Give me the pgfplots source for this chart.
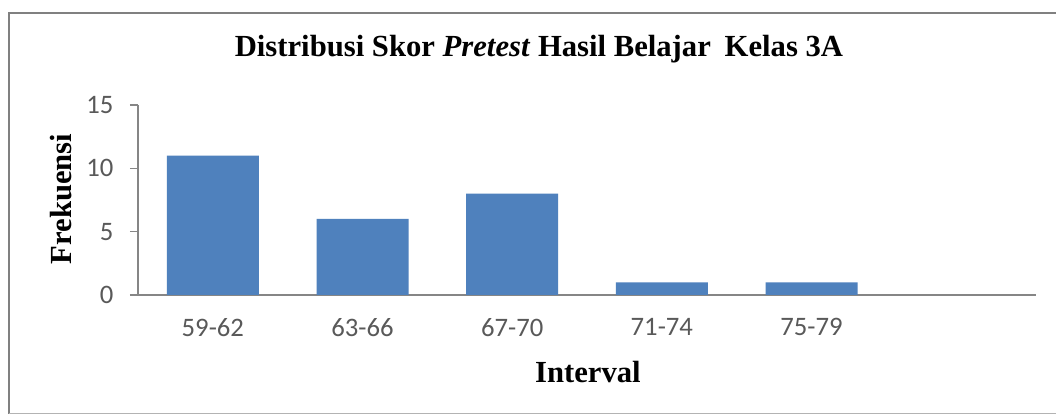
\documentclass[border=0pt]{standalone}
\usepackage{fontspec}
\setmainfont{Liberation Serif}
\newfontfamily\calibri{Carlito}
\usepackage{pgfplots}
\pgfplotsset{compat=1.18}
\definecolor{barblue}{HTML}{4F81BD}
\definecolor{axgray}{HTML}{868686}
\definecolor{lblgray}{HTML}{595959}
\definecolor{framegray}{HTML}{808080}
\begin{document}
\begin{tikzpicture}[x=1pt,y=1pt]
\path[use as bounding box] (0,0) rectangle (792,312);
\fill[white] (0,0) rectangle (792,312);
\draw[color=framegray, line width=1.5pt] (6.75,1.5) -- (6.75,302.25) -- (830,302.25);
\draw[color=framegray!60, line width=0.75pt] (6.75,1.5) -- (830,1.5);
\begin{axis}[
  at={(103.5pt,90.75pt)}, anchor=south west,
  scale only axis, width=673.5pt, height=142.5pt,
  xmin=-0.5, xmax=5.5, ymin=0, ymax=15,
  axis x line=bottom, axis y line=left,
  axis line style={axgray, line width=0.9pt, -},
  ytick={0,5,10,15},
  xtick={0,1,2,3,4},
  xticklabels={59-62,63-66,67-70,71-74,75-79},
  xtick style={draw=none},
  ytick style={axgray, line width=0.9pt},
  tick align=outside, major tick length=6pt,
  /pgf/number format/assume math mode=true,
  ticklabel style={font=\calibri\fontsize{20}{24}\selectfont, text=lblgray},
  xticklabel style={yshift=-8pt},
  yticklabel style={xshift=-9pt},
  ybar, bar width=69pt,
  title={Distribusi Skor \textit{Pretest} Hasil Belajar\hspace{0.2em} Kelas 3A},
  title style={font=\fontsize{23}{28}\selectfont\bfseries, at={(rel axis cs:0.4465,1.2526)}, anchor=center},
  xlabel={Interval},
  xlabel style={font=\fontsize{23}{28}\selectfont\bfseries, at={(rel axis cs:0.501,-0.405)}, anchor=center},
  ylabel={Frekuensi},
  ylabel style={font=\fontsize{23}{28}\selectfont\bfseries, at={(rel axis cs:-0.0857,0.505)}, anchor=center},
]
\addplot[fill=barblue, draw=none] coordinates {(0,11) (1,6) (2,8) (3,1) (4,1)};
\end{axis}
\end{tikzpicture}
\end{document}
